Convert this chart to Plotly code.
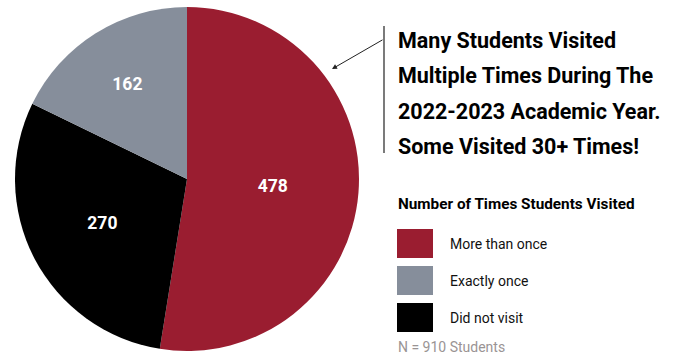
import plotly.graph_objects as go

# Visit counts for the 2022-2023 academic year
categories = ["More than once", "Did not visit", "Exactly once"]
counts = [478, 270, 162]
colors = ["#9A1D30", "#000000", "#868E9B"]

legend_order = ["More than once", "Exactly once", "Did not visit"]
total_students = 910

W, H = 695, 360
FONT = "Roboto, Lato, Liberation Sans, sans-serif"

fig = go.Figure(
    go.Pie(
        labels=categories,
        values=counts,
        marker=dict(colors=colors, line=dict(width=0)),
        sort=False,
        direction="clockwise",
        rotation=0,
        textinfo="value",
        textposition="inside",
        insidetextorientation="horizontal",
        textfont=dict(family=FONT, size=17.5, color="white", weight="bold"),
        domain=dict(x=[15 / W, 359 / W], y=[1 - 352 / H, 1 - 6 / H]),
        showlegend=False,
        hoverinfo="label+value",
    )
)

def px(x):
    return x / W

def py(y):
    return 1 - y / H

shapes = []
annotations = []

# Headline with a bracket rule and pointer arrow
headline = ["Many Students Visited", "Multiple Times During The",
            "2022-2023 Academic Year.", "Some Visited 30+ Times!"]
for i, line in enumerate(headline):
    annotations.append(dict(
        x=px(396), y=py(40 + i * 35.5), xref="paper", yref="paper",
        xanchor="left", yanchor="middle", text=line, showarrow=False,
        font=dict(family=FONT, size=21.5, color="#000", weight="bold"),
    ))
shapes.append(dict(type="line", xref="paper", yref="paper",
                   x0=px(384), x1=px(384), y0=py(26), y1=py(153),
                   line=dict(color="#222", width=1.2)))
annotations.append(dict(
    x=px(332), y=py(69), ax=52, ay=-30,
    xref="paper", yref="paper", axref="pixel", ayref="pixel",
    text="", showarrow=True, arrowhead=2, arrowsize=1, arrowwidth=1,
    arrowcolor="#222",
))

# Legend
annotations.append(dict(
    x=px(396), y=py(204), xref="paper", yref="paper",
    xanchor="left", yanchor="middle", text="Number of Times Students Visited",
    showarrow=False, font=dict(family=FONT, size=15.3, color="#000", weight="bold"),
))
color_of = dict(zip(categories, colors))
for i, name in enumerate(legend_order):
    top = 229 + i * 37
    shapes.append(dict(type="rect", xref="paper", yref="paper",
                       x0=px(397), x1=px(433), y0=py(top), y1=py(top + 29),
                       fillcolor=color_of[name], line=dict(width=0)))
    annotations.append(dict(
        x=px(448), y=py(top + 15), xref="paper", yref="paper",
        xanchor="left", yanchor="middle", text=name, showarrow=False,
        font=dict(family=FONT, size=14, color="#111"),
    ))
annotations.append(dict(
    x=px(396), y=py(347), xref="paper", yref="paper",
    xanchor="left", yanchor="middle", text=f"N = {total_students} Students",
    showarrow=False, font=dict(family=FONT, size=14, color="#9a9494"),
))

fig.update_layout(
    width=W, height=H,
    margin=dict(l=0, r=0, t=0, b=0),
    paper_bgcolor="white", plot_bgcolor="white",
    shapes=shapes, annotations=annotations,
)

fig.write_html("out.html")
